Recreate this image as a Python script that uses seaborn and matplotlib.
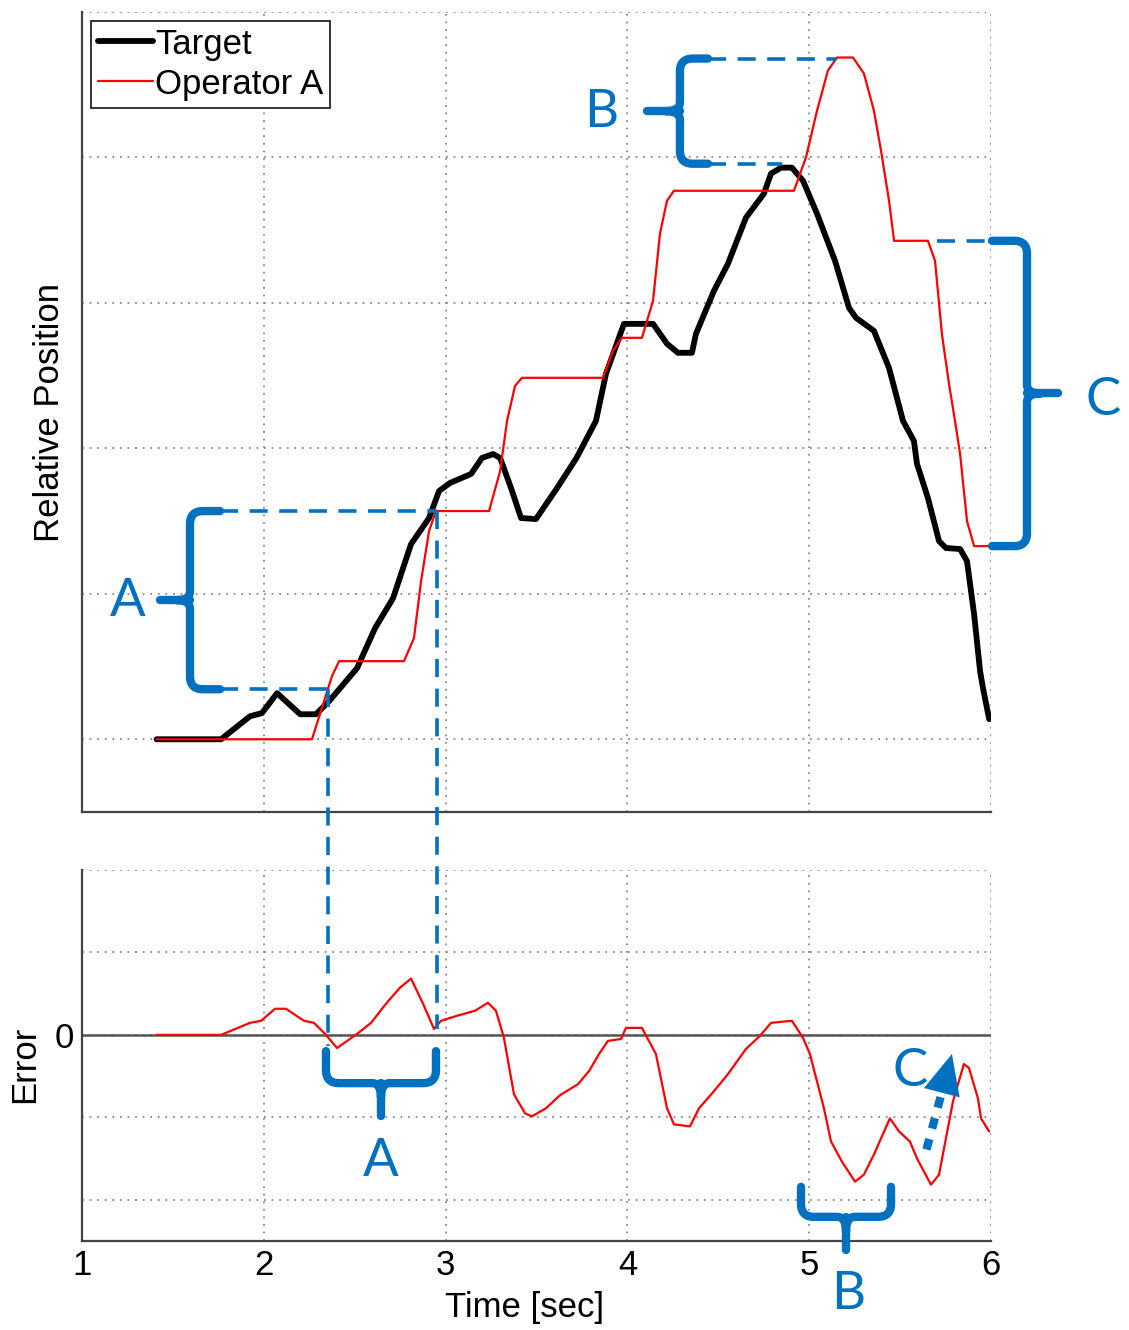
import numpy as np
import pandas as pd
import seaborn as sns
import matplotlib.pyplot as plt

# %% data
# target trajectory (black)
target_t = [1.41, 1.765, 1.924, 1.99, 2.073, 2.20, 2.287, 2.359, 2.513, 2.612, 2.711,
            2.81, 2.909, 2.964, 3.024, 3.14, 3.20, 3.261, 3.30, 3.36, 3.415, 3.497,
            3.613, 3.72, 3.827, 3.882, 3.981, 4.141, 4.218, 4.278, 4.355, 4.377, 4.476,
            4.553, 4.652, 4.751, 4.79, 4.845, 4.905, 4.966, 5.043, 5.142, 5.219, 5.258,
            5.356, 5.439, 5.516, 5.576, 5.593, 5.653, 5.714, 5.752, 5.83, 5.868, 5.907,
            5.94, 5.956, 5.99]
target_pos = [0.0, 0.0, 0.158, 0.18, 0.317, 0.172, 0.172, 0.262, 0.489, 0.764, 0.97,
              1.342, 1.521, 1.707, 1.762, 1.824, 1.934, 1.961, 1.934, 1.727, 1.521, 1.514,
              1.727, 1.934, 2.189, 2.512, 2.856, 2.856, 2.719, 2.657, 2.657, 2.787, 3.083,
              3.269, 3.586, 3.751, 3.889, 3.93, 3.93, 3.84, 3.613, 3.29, 2.966, 2.897,
              2.808, 2.553, 2.189, 2.051, 1.893, 1.659, 1.363, 1.315, 1.308, 1.225, 0.86,
              0.468, 0.351, 0.138]

# operator A response (red)
oper_t = [1.41, 2.265, 2.375, 2.414, 2.771, 2.826, 2.865, 2.909, 2.947, 3.239, 3.30,
          3.338, 3.382, 3.42, 3.866, 3.92, 3.97, 4.08, 4.141, 4.179, 4.218, 4.256,
          4.916, 4.982, 5.043, 5.103, 5.153, 5.241, 5.301, 5.356, 5.395, 5.439, 5.467,
          5.653, 5.692, 5.73, 5.769, 5.802, 5.83, 5.868, 5.907, 5.99]
oper_pos = [0.0, 0.0, 0.434, 0.537, 0.537, 0.695, 1.087, 1.432, 1.569, 1.569, 1.844,
            2.189, 2.43, 2.485, 2.485, 2.67, 2.76, 2.76, 3.014, 3.476, 3.703, 3.771,
            3.771, 3.999, 4.322, 4.597, 4.687, 4.687, 4.577, 4.322, 4.047, 3.703, 3.427,
            3.427, 3.29, 2.787, 2.443, 2.189, 1.961, 1.5, 1.328, 1.328]

# tracking error (red, lower panel)
err_t = [1.41, 1.765, 1.924, 1.985, 2.062, 2.122, 2.221, 2.276, 2.337, 2.403, 2.513,
         2.59, 2.672, 2.749, 2.81, 2.876, 2.936, 2.975, 3.063, 3.162, 3.233, 3.277,
         3.321, 3.376, 3.437, 3.475, 3.552, 3.629, 3.728, 3.789, 3.844, 3.893, 3.965,
         3.992, 4.08, 4.157, 4.218, 4.256, 4.344, 4.394, 4.476, 4.553, 4.652, 4.729,
         4.79, 4.905, 4.966, 5.004, 5.081, 5.12, 5.18, 5.252, 5.301, 5.356, 5.444,
         5.494, 5.554, 5.593, 5.67, 5.714, 5.791, 5.851, 5.879, 5.928, 5.945, 5.99]
err_val = [0.0, 0.0, 0.146, 0.171, 0.317, 0.317, 0.171, 0.146, 0.012, -0.159, 0.012,
           0.146, 0.378, 0.573, 0.683, 0.378, 0.073, 0.171, 0.232, 0.293, 0.39, 0.293,
           -0.037, -0.72, -0.951, -0.988, -0.89, -0.732, -0.598, -0.439, -0.232, -0.073, -0.049,
           0.085, 0.085, -0.232, -0.89, -1.085, -1.11, -0.89, -0.683, -0.476, -0.171, -0.012,
           0.146, 0.171, -0.037, -0.232, -0.89, -1.293, -1.537, -1.78, -1.695, -1.451, -1.012,
           -1.171, -1.293, -1.5, -1.817, -1.695, -0.805, -0.354, -0.402, -0.768, -1.012, -1.171]

x_ticks = [1, 2, 3, 4, 5, 6]
pos_ticks = [0, 1, 2, 3, 4, 5]
err_ticks = [-2, -1, 0, 1, 2]
err_tick_labels = ['', '', '0', '', '']

target_df = pd.DataFrame({'t': target_t, 'pos': target_pos})
oper_df = pd.DataFrame({'t': oper_t, 'pos': oper_pos})
err_df = pd.DataFrame({'t': err_t, 'err': err_val})

# %% style
sns.set_style("white", {"xtick.direction": "in", "ytick.direction": "in",
                        "axes.edgecolor": "#444444", "grid.color": "#8a8a8a",
                        "text.color": "black", "axes.labelcolor": "black",
                        "xtick.color": "black", "ytick.color": "black"})
plt.rcParams['font.family'] = ['Liberation Sans', 'DejaVu Sans']
plt.rcParams['xtick.major.pad'] = 6
plt.rcParams['ytick.major.pad'] = 6

FS = 25
W, H = 1129, 1330
fig = plt.figure(figsize=(W / 100, H / 100), dpi=100)
ax1 = fig.add_axes([82 / W, 1 - 812 / H, 909 / W, 800 / H])
ax2 = fig.add_axes([82 / W, 1 - 1241 / H, 909 / W, 371 / H])

sns.lineplot(data=target_df, x='t', y='pos', ax=ax1, color='black', lw=4.2,
             label='Target', sort=False, zorder=3)
sns.lineplot(data=oper_df, x='t', y='pos', ax=ax1, color='#ff0000', lw=1.6,
             label='Operator A', sort=False, zorder=4)
ax2.axhline(0, color='#555555', lw=1.8, zorder=2)
sns.lineplot(data=err_df, x='t', y='err', ax=ax2, color='#ff0000', lw=1.6,
             sort=False, zorder=3)

for ax in (ax1, ax2):
    ax.set_xlim(1, 6)
    ax.set_xticks(x_ticks)
    ax.grid(True, linestyle=(0, (1, 3.2)), lw=1.3)
    ax.spines['top'].set_visible(False)
    ax.spines['right'].set_visible(False)
    ax.spines['left'].set_linewidth(1.6)
    ax.spines['bottom'].set_linewidth(1.6)
    ax.tick_params(length=5, width=1.3, color='#444444', labelcolor='black', labelsize=FS)

ax1.set_ylim(-0.5, 5)
ax1.set_yticks(pos_ticks)
ax1.set_yticklabels([])
ax1.set_xticklabels([])
ax1.set_xlabel('')
ax1.set_ylabel('Relative Position', fontsize=FS, color='black')
ax1.yaxis.set_label_coords(-0.018, 0.5)

ax2.set_ylim(-2.5, 2)
ax2.set_yticks(err_ticks)
ax2.set_yticklabels(err_tick_labels)
ax2.set_xticklabels([str(v) for v in x_ticks])
ax2.set_xlabel('Time [sec]', fontsize=FS, color='black')
ax2.xaxis.set_label_coords(0.487, -0.135)
ax2.set_ylabel('Error', fontsize=FS, color='black')
ax2.yaxis.set_label_coords(-0.045, 0.475)

leg = ax1.legend(loc='upper left', fontsize=FS, handlelength=1.6, handletextpad=0.05,
                 borderpad=0.2, labelspacing=0.2, borderaxespad=0.25,
                 fancybox=False, framealpha=1, edgecolor='#222222', labelcolor='black')
leg.get_frame().set_linewidth(1.3)

# %% annotation layer (pixel space)
blue = '#0070c0'
ann = fig.add_axes([0, 0, 1, 1], zorder=10)
ann.set_xlim(0, W)
ann.set_ylim(H, 0)
ann.axis('off')
ann.patch.set_alpha(0)


def px(ax, t, v):
    d = ax.transData.transform((t, v))
    return ann.transData.inverted().transform(d)


def dash(p, q):
    ann.plot([p[0], q[0]], [p[1], q[1]], color=blue, lw=2.6, dashes=(5, 3.2))


def qbez(p0, p1, p2, k=14):
    u = np.linspace(0, 1, k)[:, None]
    return (1 - u) ** 2 * np.array(p0) + 2 * (1 - u) * u * np.array(p1) + u ** 2 * np.array(p2)


def brace(a, b, d, n, r=13, r2=9):
    # curly bracket along a->b; tips bent by d (signed, pixels), nub of length n on the other side
    a = np.asarray(a, float)
    b = np.asarray(b, float)
    L = np.hypot(*(b - a))
    eu = (b - a) / L
    ew = np.array([-eu[1], eu[0]])
    s = np.sign(d)
    m = L / 2
    pts = np.vstack([[[0, d]],
                     qbez([0, s * r], [0, 0], [r, 0]),
                     qbez([m - r2, 0], [m, 0], [m, -s * n * 0.45]),
                     qbez([m, -s * n * 0.45], [m, 0], [m + r2, 0]),
                     qbez([L - r, 0], [L, 0], [L, s * r]),
                     [[L, d]]])
    xy = a + pts[:, :1] * eu + pts[:, 1:] * ew
    ann.plot(xy[:, 0], xy[:, 1], color=blue, lw=6, solid_capstyle='round',
             solid_joinstyle='round')
    nub = np.array([[m, 0], [m, -s * n]])
    nxy = a + nub[:, :1] * eu + nub[:, 1:] * ew
    ann.plot(nxy[:, 0], nxy[:, 1], color=blue, lw=6, solid_capstyle='round')


def letter(p, s):
    ann.text(p[0], p[1], s, color=blue, fontsize=38, family=['Lato', 'DejaVu Sans'],
             ha='center', va='center')


# A: lag on the rising step
a_lo, a_hi = 0.344, 1.569
a_t1, a_t2 = 2.353, 2.953
dash(px(ax1, 1.759, a_hi), px(ax1, a_t2, a_hi))
dash(px(ax1, 1.759, a_lo), px(ax1, a_t1, a_lo))
dash(px(ax1, a_t1, a_lo), px(ax2, a_t1, -0.13))
dash(px(ax1, a_t2, a_hi), px(ax2, a_t2, 0.07))
brace(px(ax1, 1.594, a_hi), px(ax1, 1.594, a_lo), -30, 30)
letter(px(ax1, 1.253, 0.95), 'A')
brace(px(ax2, 2.342, -0.585), px(ax2, 2.947, -0.585), -32, 33)
letter(px(ax2, 2.645, -1.537), 'A')

# B: overshoot at the peak
b_hi, b_lo = 4.68, 3.957
dash(px(ax1, 4.443, b_hi), px(ax1, 5.15, b_hi))
dash(px(ax1, 4.443, b_lo), px(ax1, 4.85, b_lo))
brace(px(ax1, 4.289, b_hi), px(ax1, 4.289, b_lo), -28, 33)
letter(px(ax1, 3.855, 4.308), 'B')
brace(px(ax2, 4.955, -2.207), px(ax2, 5.45, -2.207), -30, 33)
letter(px(ax2, 5.213, -3.146), 'B')

# C: final offset
c_hi, c_lo = 3.427, 1.328
dash(px(ax1, 5.705, c_hi), px(ax1, 6.0, c_hi))
brace(px(ax1, 6.198, c_hi), px(ax1, 6.198, c_lo), 35, 31)
letter(px(ax1, 6.616, 2.326), 'C')
letter(px(ax2, 5.555, -0.439), 'C')
tail = px(ax2, 5.645, -1.39)
neck = px(ax2, 5.745, -0.57)
tip = px(ax2, 5.785, -0.232)
ann.plot([tail[0], neck[0]], [tail[1], neck[1]], color=blue, lw=6, dashes=(1.3, 1.3))
ann.annotate('', xy=tip, xytext=neck,
             arrowprops=dict(arrowstyle='-|>,head_length=1.3,head_width=0.6',
                             color=blue, lw=0.1, mutation_scale=22,
                             shrinkA=0, shrinkB=0))

fig.savefig('out.png', dpi=100)
